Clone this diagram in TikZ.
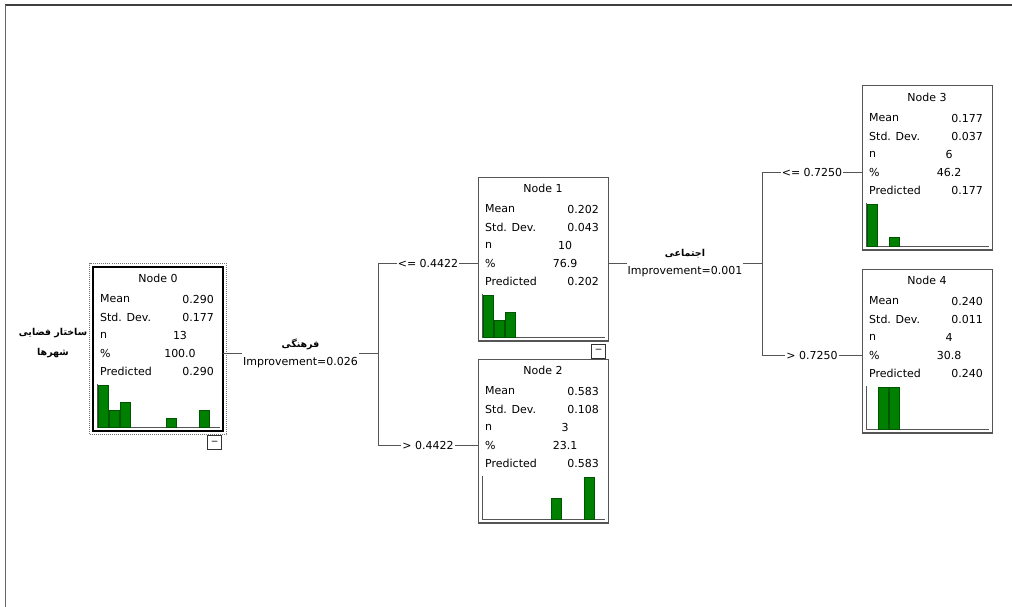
\documentclass[tikz,border=0pt]{standalone}
\usepackage{fontspec}
\setmainfont{DejaVu Sans}
\newfontfamily\arabicfont[Script=Arabic]{DejaVu Sans}
\TeXXeTstate=1
\usetikzlibrary{positioning,calc,fit}
\definecolor{bargreen}{RGB}{0,128,0}
\definecolor{bardark}{RGB}{0,85,0}
\definecolor{boxgray}{RGB}{85,85,85}
\newcommand*{\stattext}{\fontsize{11}{18}\selectfont}
\newcommand*{\fa}[1]{{\fontsize{9.5}{18}\arabicfont\bfseries\beginR#1\endR}}
\tikzstyle{treebox}=[draw=boxgray,line width=1pt,fill=white,anchor=north west,inner sep=0pt,outer sep=0pt,minimum width=130pt,minimum height=164pt]
\tikzstyle{nodetitle}=[inner sep=0pt,font=\stattext]
\tikzstyle{rowlabel}=[anchor=west,inner sep=0pt,font=\stattext]
\tikzstyle{rowvalue}=[anchor=east,inner sep=0pt,font=\stattext]
\tikzstyle{rowmid}=[inner sep=0pt,font=\stattext]
\tikzstyle{bar}=[fill=bargreen,draw=bardark,line width=0.5pt]
\tikzstyle{axis}=[draw=boxgray,line width=1pt]
\tikzstyle{edge}=[draw=boxgray,line width=0.9pt]
\tikzstyle{cutlbl}=[fill=white,inner sep=1pt,font=\stattext]
\tikzstyle{splitlbl}=[fill=white,inner sep=1pt,align=center,font=\stattext]
\tikzstyle{selbox}=[draw=black!55,densely dotted,line width=1pt,inner sep=3.5pt]
\tikzstyle{minusbox}=[draw=black!80,fill=white,line width=0.8pt,minimum size=14pt,inner sep=0pt,font=\fontsize{9}{9}\selectfont]
\tikzstyle{target}=[inner sep=0pt,align=center,font=\fontsize{9}{20}\selectfont]
\NewDocumentCommand{\treenode}{ m m m m O{} }{
  \node[treebox,#5] (#1) at (#2,#3) {};
  \draw[boxgray,line width=1.5pt,#5] (#1.south west) -- (#1.south east);
  \node[nodetitle] (#1-title) at ($(#1.north)+(0,11)$) {Node #4};
}
\NewDocumentCommand{\stats}{ m m m m m m }{
  \node[rowlabel] (#1-meanl) at ($(#1.north west)+(7,32)$) {Mean};
  \node[rowvalue] (#1-mean) at ($(#1.north east)+(-9,32)$) {#2};
  \node[rowlabel] (#1-sdl) at ($(#1.north west)+(7,50)$) {Std. Dev.};
  \node[rowvalue] (#1-sd) at ($(#1.north east)+(-9,50)$) {#3};
  \node[rowlabel] (#1-nl) at ($(#1.north west)+(7,68)$) {n};
  \node[rowmid] (#1-n) at ($(#1.north west)+(87,68)$) {#4};
  \node[rowlabel] (#1-pctl) at ($(#1.north west)+(7,86)$) {\%};
  \node[rowmid] (#1-pct) at ($(#1.north west)+(87,86)$) {#5};
  \node[rowlabel] (#1-predl) at ($(#1.north west)+(7,104)$) {Predicted};
  \node[rowvalue] (#1-pred) at ($(#1.north east)+(-9,104)$) {#6};
}
\NewDocumentCommand{\hist}{ m m m }{
  \draw[axis] ($(#1.north west)+(4,117)$) |- ($(#1.north east)+(-3,160)$);
  \foreach \bin/\cnt in {#3} {
    \pgfmathsetmacro{\barh}{42*\cnt/#2}
    \draw[bar] ($(#1.north west)+(5+11.3*\bin,160)$) rectangle ++(10,-\barh);
  }
}

\begin{document}
\begin{tikzpicture}[x=1pt,y=-1pt]
  \useasboundingbox (0,0) rectangle (1012,607);
  % window frame
  \draw[line width=2pt,black!75] (5,5) -- (1012,5);
  \draw[line width=1pt,black!60] (5,5) -- (5,607);
  % root
  \treenode{n0}{93}{267}{0}[draw=black,line width=2.5pt]
  \stats{n0}{0.290}{0.177}{13}{100.0}{0.290}
  \hist{n0}{5}{0/5,1/2,2/3,6/1,9/2}
  \node[selbox,fit=(n0)] (n0-sel) {};
  \node[minusbox,below left=4pt and 1pt of n0.south east] (n0-minus) {−};
  \node[target] (target) at (53,343) {\fa{ساختار فضایی}\\\fa{شهرها}};
  % first level
  \treenode{n1}{478}{177}{1}
  \stats{n1}{0.202}{0.043}{10}{76.9}{0.202}
  \hist{n1}{5}{0/5,1/2,2/3}
  \node[minusbox,below left=3pt and 2pt of n1.south east] (n1-minus) {−};
  \treenode{n2}{478}{359}{2}
  \stats{n2}{0.583}{0.108}{3}{23.1}{0.583}
  \hist{n2}{2}{6/1,9/2}
  % second level
  \treenode{n3}{862}{86}{3}
  \stats{n3}{0.177}{0.037}{6}{46.2}{0.177}
  \hist{n3}{5}{0/5,2/1}
  \treenode{n4}{862}{269}{4}
  \stats{n4}{0.240}{0.011}{4}{30.8}{0.240}
  \hist{n4}{2}{1/2,2/2}
  % first split
  \coordinate (s1) at (378,0);
  \draw[edge] (n0.east |- n0-pctl) -- (s1 |- n0-pctl)
    node[midway,splitlbl] {\fa{فرهنگی}\\Improvement=0.026};
  \draw[edge] (s1 |- n1-pctl) -- (s1 |- n2-pctl);
  \draw[edge] (s1 |- n1-pctl) -- (n1.west |- n1-pctl) node[midway,cutlbl] {<= 0.4422};
  \draw[edge] (s1 |- n2-pctl) -- (n2.west |- n2-pctl) node[midway,cutlbl] {> 0.4422};
  % second split
  \coordinate (s2) at (762,0);
  \draw[edge] (n1.east |- n1-pctl) -- (s2 |- n1-pctl)
    node[midway,splitlbl] {\fa{اجتماعی}\\Improvement=0.001};
  \draw[edge] (s2 |- n3-pctl) -- (s2 |- n4-pctl);
  \draw[edge] (s2 |- n3-pctl) -- (n3.west |- n3-pctl) node[midway,cutlbl] {<= 0.7250};
  \draw[edge] (s2 |- n4-pctl) -- (n4.west |- n4-pctl) node[midway,cutlbl] {> 0.7250};
\end{tikzpicture}
\end{document}
